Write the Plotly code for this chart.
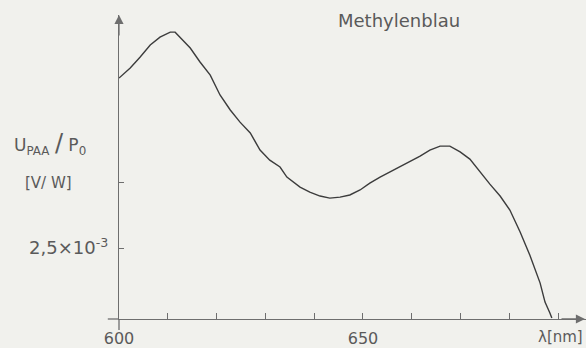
import plotly.graph_objects as go

# Wavelength (nm) and signal U_PAA/P0 (in 1e-3 V/W)
wavelength = [600.0, 602.3, 604.3, 606.4, 608.4, 610.5, 611.5, 612.5, 614.6, 616.6,
              618.7, 620.7, 622.8, 624.8, 626.9, 628.9, 630.9, 633.0, 634.4, 637.1,
              639.1, 641.2, 643.2, 645.3, 647.3, 649.4, 651.4, 653.5, 655.5, 657.6,
              661.7, 663.7, 665.8, 667.8, 669.9, 671.9, 674.0, 676.0, 678.1, 680.1,
              682.2, 684.2, 686.3, 687.3, 688.3, 688.7]
signal = [8.94, 9.32, 9.73, 10.19, 10.49, 10.68, 10.68, 10.49, 10.08, 9.55,
          9.05, 8.30, 7.73, 7.27, 6.86, 6.21, 5.83, 5.57, 5.19, 4.81,
          4.62, 4.47, 4.39, 4.43, 4.51, 4.70, 4.96, 5.19, 5.38, 5.61,
          5.98, 6.21, 6.36, 6.36, 6.14, 5.87, 5.38, 4.92, 4.47, 3.94,
          3.11, 2.23, 1.17, 0.45, 0.04, -0.15]

x_tickvals = [600, 610, 620, 630, 640, 650, 660, 670, 680, 690]
x_ticktext = ["600", "", "", "", "", "650", "", "", "", ""]
y_tickvals = [2.5, 5.0]
y_ticktext = ["2,5×10<sup>-3</sup>", ""]

title_text = "Methylenblau"
x_label = "λ[nm]"
y_label_1 = "U<sub>PAA</sub> <span style='font-size:24px'>/</span> P<sub>0</sub>"
y_label_2 = "[V/ W]"

BG = "#f1f1ed"
INK = "#3c3c3c"
AX = "#6e6e6e"
TXT = "#5a5a5a"
FONT = "DejaVu Sans"

fig = go.Figure()
fig.add_trace(go.Scatter(x=wavelength, y=signal, mode="lines",
                         line=dict(color=INK, width=1.4), showlegend=False,
                         cliponaxis=False, hoverinfo="skip"))

fig.update_layout(
    width=586, height=348,
    margin=dict(l=119, r=0, t=15, b=29, autoexpand=False),
    paper_bgcolor=BG, plot_bgcolor=BG,
    font=dict(family=FONT, size=16, color=TXT),
    xaxis=dict(range=[600, 695.7], showgrid=False, zeroline=False, automargin=False,
               showline=True, linecolor=AX, linewidth=1.3,
               ticks="inside", ticklen=6, tickcolor=AX, tickwidth=1.2,
               tickvals=x_tickvals, ticktext=x_ticktext,
               ticklabelstandoff=5, tickfont=dict(size=16, color=TXT)),
    yaxis=dict(range=[-0.19, 11.33], showgrid=False, zeroline=False, automargin=False,
               showline=True, linecolor=AX, linewidth=1.3,
               ticks="inside", ticklen=5, tickcolor=AX, tickwidth=1.2,
               tickvals=y_tickvals, ticktext=y_ticktext,
               ticklabelstandoff=6, tickfont=dict(size=18, color=TXT)),
)

# axis extensions beyond the origin
fig.add_shape(type="line", xref="paper", yref="paper", x0=-0.024, y0=0, x1=0, y1=0,
              line=dict(color=AX, width=1.3))
fig.add_shape(type="line", xref="paper", yref="paper", x0=0, y0=0, x1=0, y1=-0.036,
              line=dict(color=AX, width=1.3))

# arrowheads
fig.add_annotation(x=0, y=1.0, xref="paper", yref="paper", ax=0, ay=22, text="",
                   showarrow=True, arrowhead=2, arrowsize=1.4, arrowwidth=1.3,
                   arrowcolor=AX)
fig.add_annotation(x=1.0, y=0, xref="paper", yref="paper", ax=-26, ay=0, text="",
                   showarrow=True, arrowhead=2, arrowsize=1.4, arrowwidth=1.3,
                   arrowcolor=AX)

# texts (positions given in pixels, converted to paper coordinates below)
fig.add_annotation(x=399, y=20, text=title_text, showarrow=False,
                   font=dict(size=18, color=TXT))
fig.add_annotation(x=560, y=337, text=x_label, showarrow=False,
                   font=dict(size=15, color=TXT))
fig.add_annotation(x=50, y=143, text=y_label_1, showarrow=False,
                   font=dict(size=17, color=TXT))
fig.add_annotation(x=48, y=183, text=y_label_2, showarrow=False,
                   font=dict(size=15, color=TXT))

W, H, L, R, T, B = 586, 348, 119, 0, 15, 29
pw, ph = W - L - R, H - T - B
for ann in fig.layout.annotations[2:]:
    px, py = ann.x, ann.y
    ann.update(xref="paper", yref="paper",
               x=(px - L) / pw, y=(H - B - py) / ph,
               xanchor="center", yanchor="middle")

fig.write_html("out.html", config={"displayModeBar": False},
               post_script="document.body.style.margin='0';document.body.style.overflow='hidden';")
